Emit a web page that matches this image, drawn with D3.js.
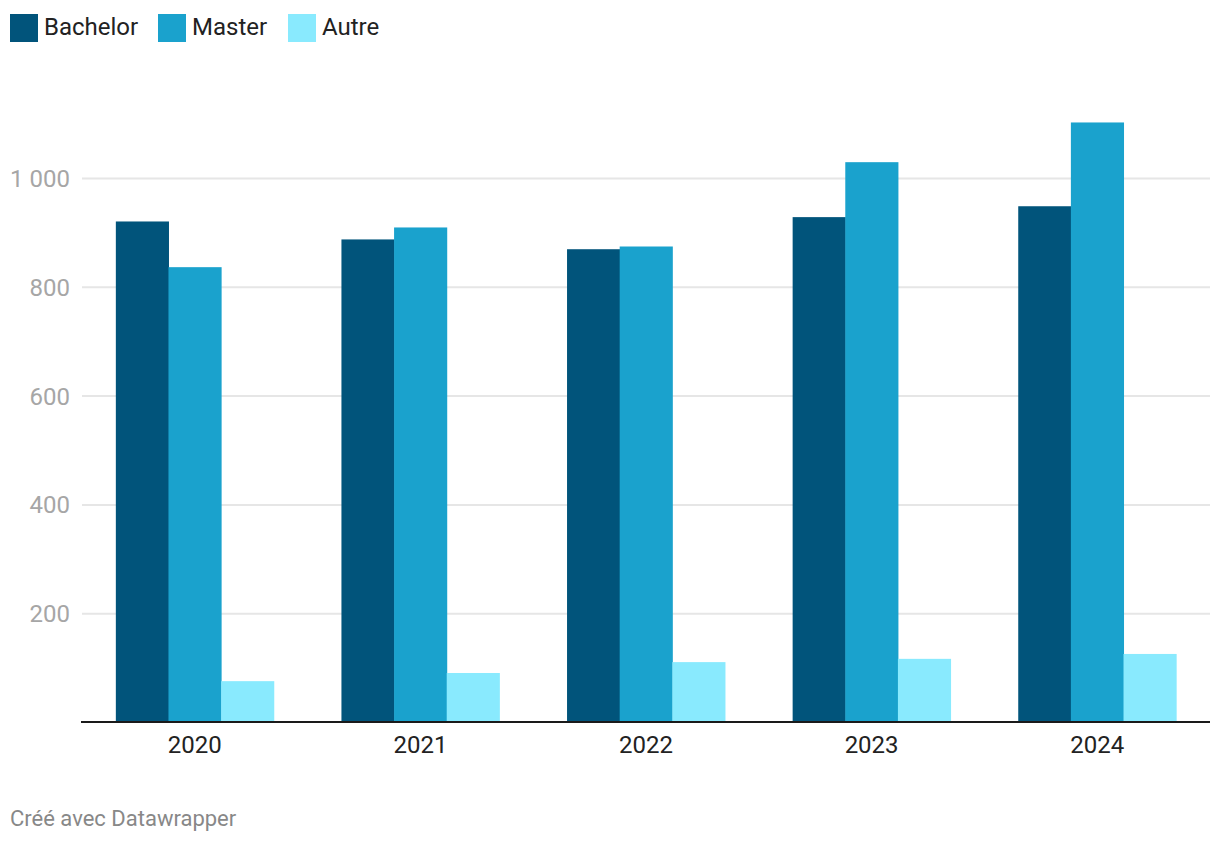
<!DOCTYPE html>
<html><head><meta charset="utf-8">
<script src="https://cdn.jsdelivr.net/npm/d3@7"></script>
<style>body{margin:0;background:#fff}svg{display:block;font-family:Roboto,sans-serif}</style>
</head><body>
<svg id="c" width="1220" height="844"></svg>
<script>
const years = ["2020","2021","2022","2023","2024"];
const seriesNames = ["Bachelor","Master","Autre"];
const bachelor = [921, 888, 870, 929, 949];
const master = [837, 910, 875, 1030, 1103];
const autre = [76, 91, 111, 117, 126];
const yTicks = [200, 400, 600, 800, 1000];
const colors = ["#01547b", "#1aa2cd", "#89eafe"];
const values = [bachelor, master, autre];

const svg = d3.select("#c");
const x0 = d3.scaleBand().domain(years).range([82, 1210]).paddingInner(0.3).paddingOuter(0.15);
const x1 = d3.scaleBand().domain(seriesNames).range([0, x0.bandwidth()]);
const y = d3.scaleLinear().domain([0, 1000]).range([722.5, 178.5]);
const fmt = v => d3.format(",")(v).replace(/,/g, " ");

// grid
const grid = svg.append("g");
grid.selectAll("line").data(yTicks).join("line")
  .attr("x1", 82).attr("x2", 1210)
  .attr("y1", d => y(d)).attr("y2", d => y(d))
  .attr("stroke", "#e6e6e6").attr("stroke-width", 2);
grid.selectAll("text").data(yTicks).join("text")
  .attr("x", 70).attr("y", d => y(d)).attr("dy", "0.35em")
  .attr("text-anchor", "end").attr("fill", "#a6a6a6").attr("font-size", 24)
  .text(fmt);

// bars
const g = svg.append("g");
years.forEach((yr, i) => {
  seriesNames.forEach((s, j) => {
    g.append("rect")
      .attr("x", x0(yr) + x1(s)).attr("width", x1.bandwidth() + 0.5)
      .attr("y", y(values[j][i])).attr("height", y(0) - y(values[j][i]))
      .attr("fill", colors[j]);
  });
});

// baseline
svg.append("line").attr("x1", 81).attr("x2", 1210).attr("y1", 722).attr("y2", 722)
  .attr("stroke", "#1a1a1a").attr("stroke-width", 2);

// x axis
const xa = svg.append("g").attr("transform", "translate(0,722)")
  .call(d3.axisBottom(x0).tickSize(0).tickPadding(14));
xa.select(".domain").remove();
xa.selectAll("text").attr("font-size", 24).attr("fill", "#222").attr("font-family", "Roboto");

// legend
const legX = [10, 158, 288];
seriesNames.forEach((s, j) => {
  svg.append("rect").attr("x", legX[j]).attr("y", 14).attr("width", 28).attr("height", 28).attr("fill", colors[j]);
  svg.append("text").attr("x", legX[j] + 34).attr("y", 26.5).attr("dy", "0.35em")
    .attr("font-size", 24).attr("fill", "#222").text(s);
});

// footer
svg.append("text").attr("x", 10).attr("y", 826).attr("font-size", 22).attr("fill", "#888")
  .text("Créé avec Datawrapper");
</script>
</body></html>
